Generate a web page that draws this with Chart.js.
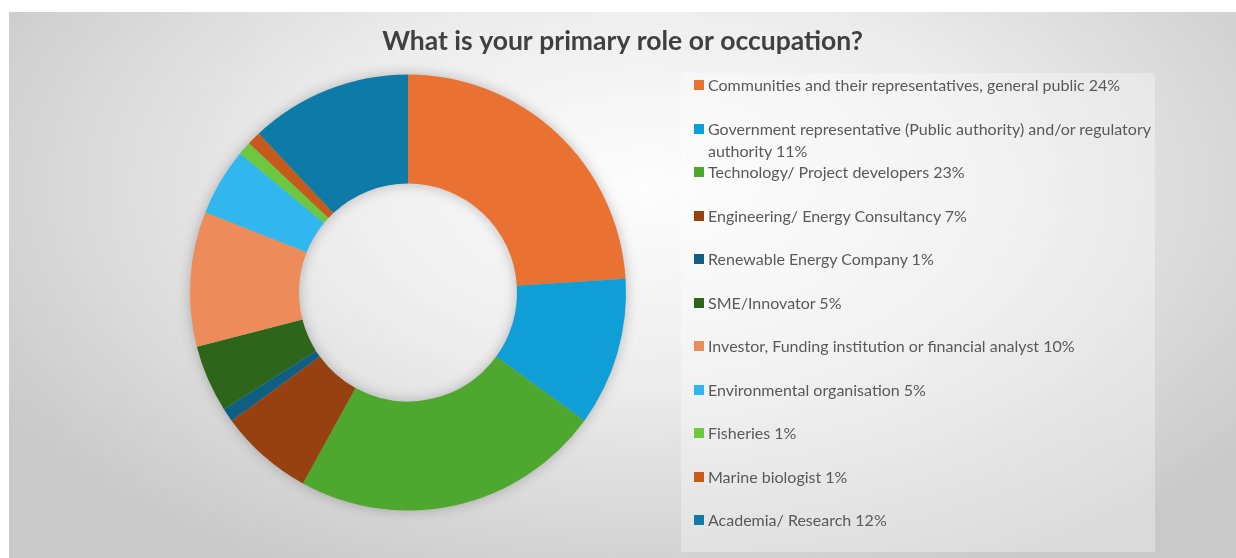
<!DOCTYPE html>
<html>
<head>
<meta charset="utf-8">
<title>Primary role or occupation</title>
<script src="https://cdn.jsdelivr.net/npm/chart.js@4.4.1/dist/chart.umd.min.js"></script>
<style>
  html, body { margin: 0; padding: 0; background: #ffffff; }
  #panel {
    position: absolute; left: 9px; top: 12px; width: 1227px; height: 546px;
    background: radial-gradient(ellipse 62% 80% at 52% 32%, #fdfdfd 0%, #ececec 45%, #c9c9c9 100%);
    overflow: hidden;
  }
  #chartWrap { position: absolute; left: 0; top: 0; width: 1227px; height: 546px; }
  #legendBox {
    position: absolute; left: 672px; top: 61px; width: 474px; height: 479px;
    background: rgba(255, 255, 255, 0.32);
    font-family: Lato, "Noto Sans", sans-serif; font-size: 16px; color: #595959;
  }
  .legend-item { position: absolute; left: 13px; width: 460px; line-height: 22px; }
  .legend-swatch { position: absolute; left: 0; top: 6px; width: 10px; height: 10px; }
  .legend-text { margin-left: 14px; width: 448px; }
</style>
</head>
<body>
<div id="panel">
  <div id="chartWrap"><canvas id="roleChart"></canvas></div>
  <div id="legendBox"></div>
</div>
<script>
const categories = [
  'Communities and their representatives, general public',
  'Government representative (Public authority) and/or regulatory authority',
  'Technology/ Project developers',
  'Engineering/ Energy Consultancy',
  'Renewable Energy Company',
  'SME/Innovator',
  'Investor, Funding institution or financial analyst',
  'Environmental organisation',
  'Fisheries',
  'Marine biologist',
  'Academia/ Research'
];
const shares = [24, 11, 23, 7, 1, 5, 10, 5, 1, 1, 12];
const sliceColors = [
  '#E97132', '#0F9ED5', '#4EA72E', '#96410F', '#0E5F82', '#2D661B',
  '#ED8C5A', '#30B8EE', '#6BC840', '#C55A1B', '#0E7AA8'
];

// soft shadow under the ring, drawn before the slices cover it
const ringShadow = {
  id: 'ringShadow',
  beforeDatasetsDraw(chart) {
    const arc = chart.getDatasetMeta(0).data[0];
    if (!arc) return;
    const p = arc.getProps(['x', 'y', 'innerRadius', 'outerRadius'], true);
    const ctx = chart.ctx;
    ctx.save();
    ctx.shadowColor = 'rgba(0, 0, 0, 0.28)';
    ctx.shadowBlur = 14;
    ctx.fillStyle = '#b0b0b0';
    ctx.beginPath();
    ctx.arc(p.x, p.y, p.outerRadius - 1, 0, Math.PI * 2);
    ctx.arc(p.x, p.y, p.innerRadius + 1, 0, Math.PI * 2, true);
    ctx.fill();
    ctx.restore();
  }
};

// keeps the right side of the canvas free for the legend box
const legendSpace = {
  id: 'legendSpace',
  beforeInit(chart) {
    Chart.layouts.addBox(chart, {
      position: 'right',
      weight: 100,
      fullSize: false,
      options: {},
      isHorizontal() { return false; },
      update(maxWidth, maxHeight) { this.width = 429; this.height = maxHeight; },
      draw() {}
    });
  }
};

const ctx = document.getElementById('roleChart').getContext('2d');
const chart = new Chart(ctx, {
  type: 'doughnut',
  data: {
    labels: categories,
    datasets: [{
      data: shares,
      backgroundColor: sliceColors,
      borderWidth: 0,
      hoverOffset: 0
    }]
  },
  options: {
    responsive: true,
    maintainAspectRatio: false,
    animation: false,
    cutout: '50%',
    layout: { padding: { bottom: 47.5 } },
    plugins: {
      legend: { display: false },
      tooltip: { enabled: false },
      title: {
        display: true,
        text: 'What is your primary role or occupation?',
        color: '#404040',
        font: { family: 'Lato', size: 26.5, weight: 'bold' },
        padding: { top: 14, bottom: 16.7 }
      }
    }
  },
  plugins: [ringShadow, legendSpace]
});

// legend entries come from the chart's own label generator
const legendBox = document.getElementById('legendBox');
const items = chart.options.plugins.legend.labels.generateLabels(chart);
items.forEach(function(item, i) {
  const row = document.createElement('div');
  row.className = 'legend-item';
  row.style.top = (1 + 43.5 * i) + 'px';
  const swatch = document.createElement('span');
  swatch.className = 'legend-swatch';
  swatch.style.background = item.fillStyle;
  const text = document.createElement('div');
  text.className = 'legend-text';
  text.textContent = item.text + ' ' + shares[item.index] + '%';
  row.appendChild(swatch);
  row.appendChild(text);
  legendBox.appendChild(row);
});
</script>
</body>
</html>
